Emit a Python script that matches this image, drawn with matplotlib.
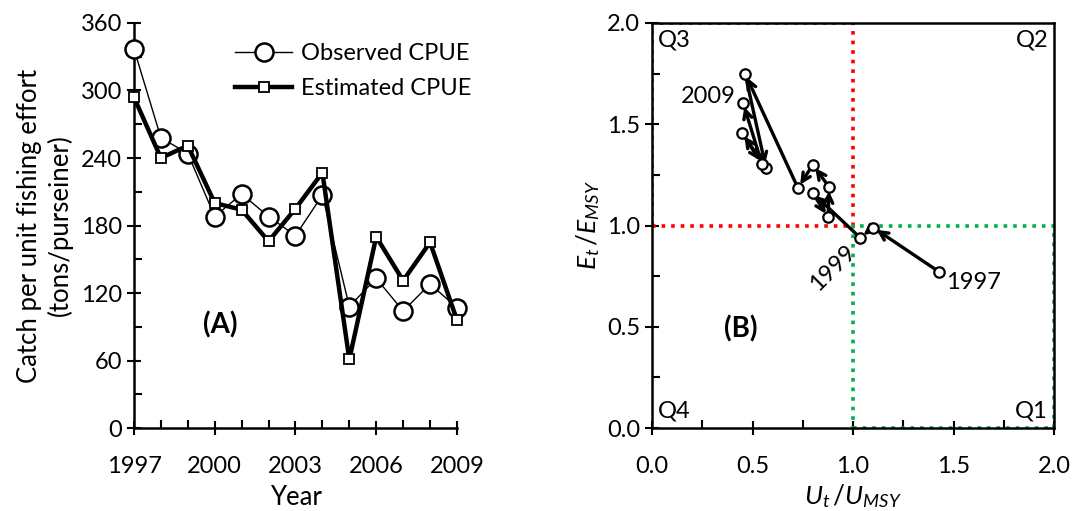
import numpy as np
import matplotlib
matplotlib.use("Agg")
import matplotlib.pyplot as plt
from matplotlib.ticker import MultipleLocator, FixedLocator

plt.rcParams['font.family'] = ['Lato', 'DejaVu Sans']
plt.rcParams['mathtext.fontset'] = 'custom'
plt.rcParams['mathtext.it'] = 'Lato:italic'
plt.rcParams['mathtext.rm'] = 'Lato'

# panel A data
years = np.arange(1997, 2010)
cpue_obs = [337, 258, 244, 188, 208, 188, 171, 207, 108, 133, 104, 128, 107]
cpue_est = [294, 240, 251, 200, 194, 166, 195, 227, 61, 170, 131, 165, 96]

# panel B data (trajectory by year)
u_ratio = [1.43, 1.10, 1.035, 0.80, 0.876, 0.881, 0.80, 0.726, 0.463, 0.567, 0.448, 0.547, 0.453]
e_ratio = [0.77, 0.99, 0.94, 1.16, 1.04, 1.19, 1.30, 1.185, 1.75, 1.284, 1.457, 1.304, 1.605]

fig = plt.figure(figsize=(10.77, 5.11), dpi=100)
ax1 = fig.add_axes([0.1244, 0.1624, 0.2999, 0.7926])
ax2 = fig.add_axes([0.6054, 0.1624, 0.3733, 0.7926])

# ---- panel A
ax1.plot(years, cpue_obs, '-o', color='black', lw=1.0, ms=13, mfc='white',
         mew=1.8, label='Observed CPUE', zorder=3, clip_on=False)
ax1.plot(years, cpue_est, '-s', color='black', lw=3.2, ms=7, mfc='white',
         mew=1.3, label='Estimated CPUE', zorder=4, clip_on=False)
ax1.set_xlim(1997, 2009)
ax1.set_ylim(0, 360)
ax1.xaxis.set_major_locator(FixedLocator(years[::3]))
ax1.xaxis.set_minor_locator(MultipleLocator(1))
ax1.yaxis.set_major_locator(MultipleLocator(60))
ax1.yaxis.set_minor_locator(MultipleLocator(30))
ax1.spines['top'].set_visible(False)
ax1.spines['right'].set_visible(False)
for s in ['left', 'bottom']:
    ax1.spines[s].set_linewidth(1.8)
ax1.tick_params(which='major', direction='inout', length=10, width=1.5, labelsize=17)
ax1.tick_params(which='minor', direction='in', length=6, width=1.5)
ax1.tick_params(axis='x', which='major', pad=15)
ax1.set_xlabel('Year', fontsize=18.5, labelpad=6)
ax1.set_ylabel('Catch per unit fishing effort\n(tons/purseiner)', fontsize=18.5, labelpad=6)
ax1.text(2000.2, 92, '(A)', fontsize=20, fontweight='bold', ha='center', va='center')
ax1.legend(loc='upper right', frameon=False, fontsize=17, handlelength=2.4,
           bbox_to_anchor=(1.09, 0.985), borderaxespad=0.2, labelspacing=0.6,
           handletextpad=0.4)

# ---- panel B
ax2.set_xlim(0, 2)
ax2.set_ylim(0, 2)
ax2.plot([0, 1, 1, 0, 0], [1, 1, 2, 2, 1], ls=':', color='#ff0000', lw=2.6, zorder=2)
ax2.plot([1, 2, 2, 1, 1], [0, 0, 1, 1, 0], ls=':', color='#00b050', lw=2.6, zorder=2)
for i in range(len(u_ratio) - 1):
    ax2.annotate('', xy=(u_ratio[i + 1], e_ratio[i + 1]), xytext=(u_ratio[i], e_ratio[i]),
                 arrowprops=dict(arrowstyle='->', color='black', lw=2.4,
                                 shrinkA=3, shrinkB=3, mutation_scale=15), zorder=3)
ax2.plot(u_ratio, e_ratio, 'o', color='black', ms=7.5, mfc='white', mew=1.6, zorder=4)
ax2.xaxis.set_major_locator(MultipleLocator(0.5))
ax2.xaxis.set_minor_locator(MultipleLocator(0.25))
ax2.yaxis.set_major_locator(MultipleLocator(0.5))
ax2.yaxis.set_minor_locator(MultipleLocator(0.25))
ax2.xaxis.set_major_formatter(plt.FormatStrFormatter('%.1f'))
ax2.yaxis.set_major_formatter(plt.FormatStrFormatter('%.1f'))
for s in ax2.spines.values():
    s.set_linewidth(1.8)
ax2.tick_params(which='major', direction='inout', length=10, width=1.5, labelsize=17)
ax2.tick_params(which='minor', direction='in', length=6, width=1.5)
ax2.tick_params(axis='x', which='major', pad=15)
ax2.set_xlabel('$U_t\\,/U_{MSY}$', fontsize=19, labelpad=4)
ax2.set_ylabel('$E_t\\,/E_{MSY}$', fontsize=19, labelpad=4)
ax2.text(0.03, 1.97, 'Q3', fontsize=17, ha='left', va='top')
ax2.text(1.97, 1.97, 'Q2', fontsize=17, ha='right', va='top')
ax2.text(0.03, 0.03, 'Q4', fontsize=17, ha='left', va='bottom')
ax2.text(1.97, 0.03, 'Q1', fontsize=17, ha='right', va='bottom')
ax2.text(1.60, 0.72, '1997', fontsize=17, ha='center', va='center')
ax2.text(0.90, 0.79, '1999', fontsize=17, ha='center', va='center', rotation=45)
ax2.text(0.28, 1.635, '2009', fontsize=17, ha='center', va='center')
ax2.text(0.44, 0.49, '(B)', fontsize=20, fontweight='bold', ha='center', va='center')

fig.savefig('out.png', dpi=100)
